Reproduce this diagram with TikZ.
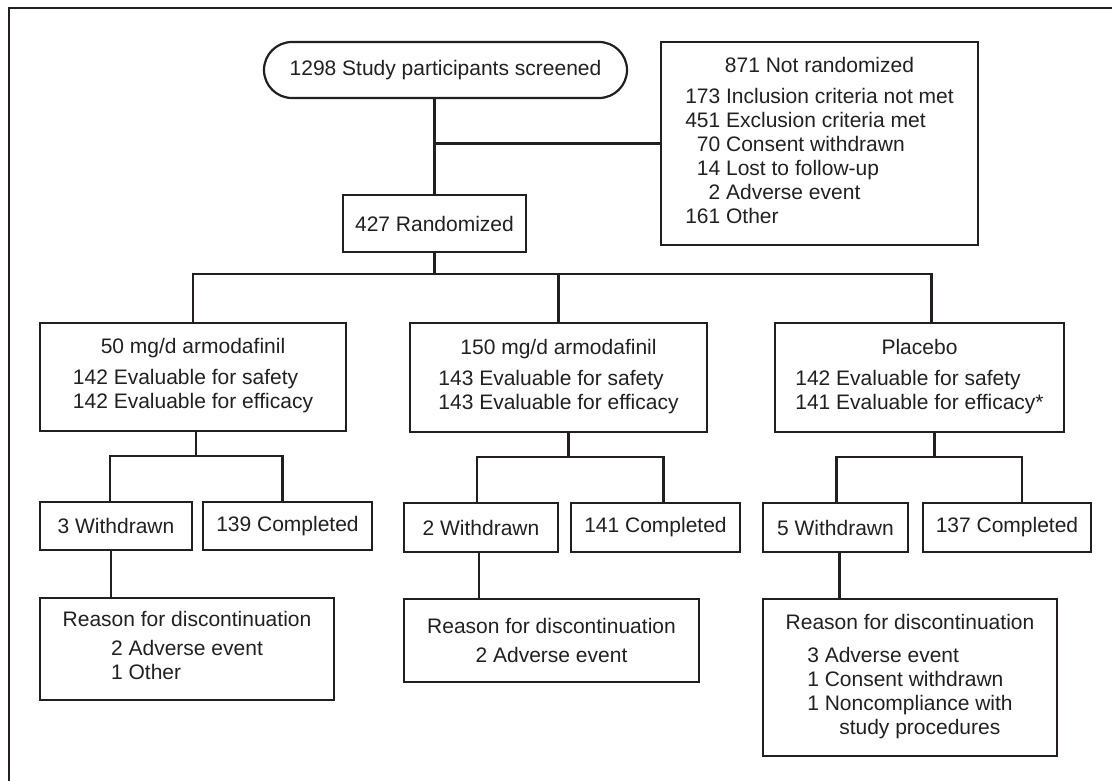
\documentclass[tikz,border=0pt]{standalone}
\usepackage{fontspec}
\setmainfont{Liberation Sans}
\usepackage{xcolor}
\usepackage{tikz}
\usetikzlibrary{positioning}
\definecolor{inkcolor}{RGB}{35,31,32}

\begin{document}
\begin{tikzpicture}[x=1pt, y=-1pt, color=inkcolor, line width=2.2pt,
    box/.style={draw, rectangle, inner sep=0pt, align=center, font=\fontsize{21}{24}\selectfont}]
                \useasboundingbox (0,0) rectangle (1112,781);
                \draw[line width=2pt] (1112,8) -- (8.6,8) -- (8.6,781);

                \node[box, rounded corners=28pt, minimum width=363pt, minimum height=56pt] (screened) at (445.5,70) {1298 Study participants screened};
                \node[box, minimum width=317pt, minimum height=203pt] (notrand) at (819.5,143.5) {871 Not randomized\\[7pt]\begin{tabular}[t]{@{}r@{ }l@{}}173 & Inclusion criteria not met\\451 & Exclusion criteria met\\70 & Consent withdrawn\\14 & Lost to follow-up\\2 & Adverse event\\161 & Other\end{tabular}};
                \node[box, minimum width=183pt, minimum height=57pt] (rand) at (434.5,223.5) {427 Randomized};

                \node[box, minimum width=306pt, minimum height=108pt] (arm50) at (193,377) {50 mg/d armodafinil\\[7pt]\begin{tabular}[t]{@{}l@{}}142 Evaluable for safety\\142 Evaluable for efficacy\end{tabular}};
                \node[box, minimum width=297pt, minimum height=109pt] (arm150) at (558.5,377.5) {150 mg/d armodafinil\\[7pt]\begin{tabular}[t]{@{}l@{}}143 Evaluable for safety\\143 Evaluable for efficacy\end{tabular}};
                \node[box, minimum width=289pt, minimum height=109pt] (placebo) at (919.5,377.5) {Placebo\\[7pt]\begin{tabular}[t]{@{}l@{}}142 Evaluable for safety\\141 Evaluable for efficacy*\end{tabular}};

                \node[box, minimum width=152pt, minimum height=48pt] (wd50) at (116,526) {3 Withdrawn};
                \node[box, minimum width=169pt, minimum height=48pt] (cp50) at (287.5,526) {139 Completed};
                \node[box, minimum width=154pt, minimum height=49pt] (wd150) at (481,527.5) {2 Withdrawn};
                \node[box, minimum width=169pt, minimum height=49pt] (cp150) at (655.5,527.5) {141 Completed};
                \node[box, minimum width=145pt, minimum height=49pt] (wdpl) at (835.5,527.5) {5 Withdrawn};
                \node[box, minimum width=168pt, minimum height=49pt] (cppl) at (1007,527.5) {137 Completed};

                \node[box, minimum width=294pt, minimum height=102pt] (why50) at (187,649) {Reason for discontinuation\\[5pt]\begin{tabular}[t]{@{}l@{}}2 Adverse event\\1 Other\end{tabular}};
                \node[box, minimum width=295pt, minimum height=83pt] (why150) at (551.5,640.5) {Reason for discontinuation\\[5pt]2 Adverse event};
                \node[box, minimum width=294pt, minimum height=157pt] (whypl) at (910,677.5) {Reason for discontinuation\\[9pt]\begin{tabular}[t]{@{}l@{}}3 Adverse event\\1 Consent withdrawn\\1 Noncompliance with\\\hspace{32pt}study procedures\end{tabular}};

                \draw (rand.north |- screened.south) -- (rand.north);
                \draw (notrand.west) -- (notrand.west -| rand.north);

                \draw (rand.south) -- ++(0,21) coordinate (split);
                \draw (arm50.north) |- (split) -| ([xshift=12pt]placebo.north);
                \draw (arm150.north) -- (arm150.north |- split);

                \draw ([xshift=3pt]arm50.south) -- ++(0,24) coordinate (sub50);
                \draw ([xshift=-6pt]wd50.north) |- (sub50) -| ([xshift=-5pt]cp50.north);
                \draw ([xshift=10pt]arm150.south) -- ++(0,24) coordinate (sub150);
                \draw ([xshift=-4pt]wd150.north) |- (sub150) -| ([xshift=8pt]cp150.north);
                \draw ([xshift=15pt]placebo.south) -- ++(0,24) coordinate (subpl);
                \draw ([xshift=1pt]wdpl.north) |- (subpl) -| ([xshift=15pt]cppl.north);

                \draw ([xshift=-5pt]wd50.south) -- ([xshift=-5pt]wd50.south |- why50.north);
                \draw ([xshift=-2pt]wd150.south) -- ([xshift=-2pt]wd150.south |- why150.north);
                \draw ([xshift=4pt]wdpl.south) -- ([xshift=4pt]wdpl.south |- whypl.north);
            \end{tikzpicture}
\end{document}
